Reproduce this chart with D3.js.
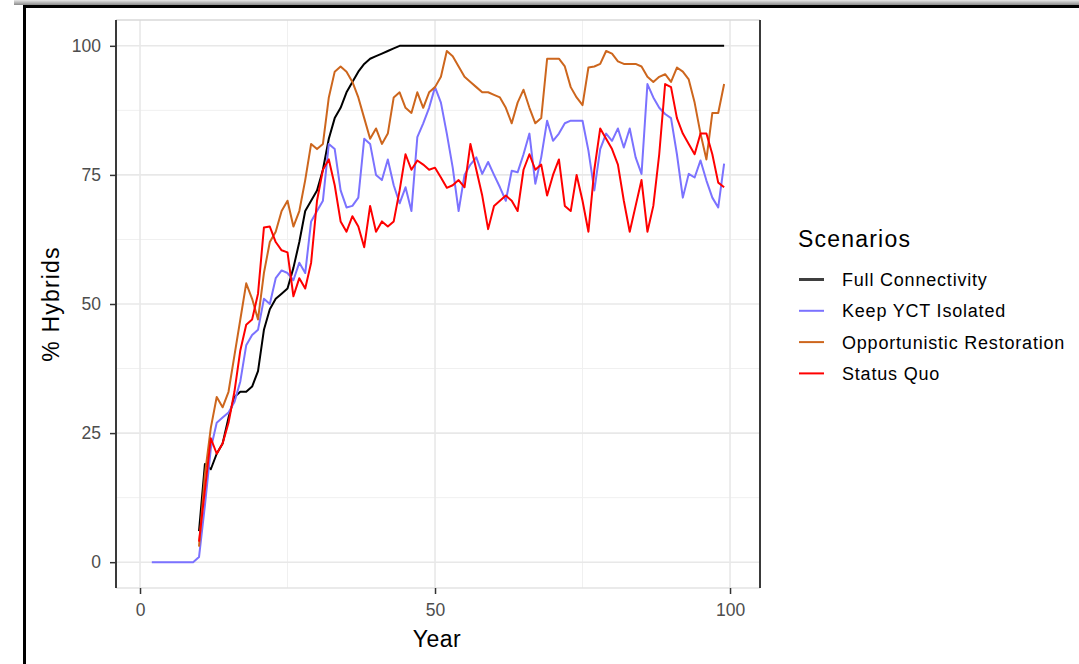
<!DOCTYPE html>
<html>
<head>
<meta charset="utf-8">
<script src="https://cdn.jsdelivr.net/npm/d3@7"></script>
<style>
  body { margin: 0; background: #fff; }
  text { font-family: "Liberation Sans", Arial, sans-serif; }
</style>
</head>
<body>
<svg id="chart" width="1079" height="664"></svg>
<script>
// years 2..99, null = not simulated yet
var years = d3.range(2, 100);

var fullConnectivity = [null, null, null, null, null, null, null, null,
  6, 19, 18, 21, 23, 28, 32, 33, 33, 34, 37, 45, 49, 51, 52, 53, 57, 62, 68, 70,
  72, 76, 82, 86, 88, 91, 93, 95, 96.5, 97.5, 98, 98.5, 99, 99.5,
  100, 100, 100, 100, 100, 100, 100, 100, 100, 100, 100, 100, 100, 100,
  100, 100, 100, 100, 100, 100, 100, 100, 100, 100, 100, 100, 100, 100,
  100, 100, 100, 100, 100, 100, 100, 100, 100, 100, 100, 100, 100, 100,
  100, 100, 100, 100, 100, 100, 100, 100, 100, 100, 100, 100, 100, 100];

var keepIsolated = [0, 0, 0, 0, 0, 0, 0, 0,
  1, 11, 22, 27, 28, 29, 31, 35, 42, 44, 45, 51, 50, 55, 56.5, 56, 54.6, 58, 56, 66,
  68, 70, 81, 80, 72, 68.7, 69, 70.6, 82, 81, 75, 74, 78, 73, 69.5, 72.6, 68, 82.3,
  85, 88, 92, 89, 83, 76.4, 68, 75, 77, 78.4, 75.2, 77.5, 75, 72.6, 70, 75.8,
  75.5, 79, 83, 73.3, 78.4, 85.5, 81.6, 83, 85, 85.5, 85.5, 85.5, 79.7, 72,
  80, 83, 81.6, 84, 80.3, 84, 78.4, 75.2, 92.6, 90, 88, 86.8, 86, 79,
  70.6, 75.2, 74.5, 77.8, 73.9, 70.6, 68.7, 77.2];

var opportunistic = [null, null, null, null, null, null, null, null,
  3, 17, 26, 32, 30, 33, 40, 47, 54, 51, 47, 56, 62, 64, 68, 70, 65, 68, 74, 81,
  80, 81, 90, 95, 96, 95, 93, 90, 86, 82, 84, 81, 83, 90, 91, 88, 87, 91,
  88, 91, 92, 94, 99, 98, 96, 94, 93, 92, 91, 91, 90.5, 90, 88, 85,
  89, 91.5, 88, 85, 86, 97.5, 97.5, 97.5, 96, 92, 90, 88.5, 95.8, 96,
  96.5, 99, 98.5, 97, 96.5, 96.5, 96.5, 96, 94, 93, 94, 94.5, 93, 95.8,
  95, 93.5, 89, 83, 78, 87, 87, 92.6];

var statusQuo = [null, null, null, null, null, null, null, null,
  4, 14, 24, 21, 23, 27, 33, 41, 46, 47, 52, 64.8, 65, 62, 60.4, 60, 51.5, 55, 53, 58,
  70, 76, 78, 73, 66, 64, 67, 65, 61, 69, 64, 66, 65, 66, 72, 79, 76, 77.8,
  77, 76, 76.4, 74.5, 72.5, 73, 74, 72.6, 81, 76, 71, 64.5, 69, 70, 71, 70,
  68, 76, 79, 76, 77, 71, 75, 78, 69, 68, 75, 70, 64, 76,
  84, 82, 80, 77, 70, 64, 69, 74, 64, 69, 79, 92.6, 92, 86,
  83, 81, 79, 83, 83, 79, 73.5, 72.6];

var scenarioNames = ["Full Connectivity", "Keep YCT Isolated", "Opportunistic Restoration", "Status Quo"];
var scenarioColors = ["#000000", "#7B72FF", "#CD661D", "#FF0000"];
var yTicks = [0, 25, 50, 75, 100];
var yMinor = [12.5, 37.5, 62.5, 87.5];
var xTicks = [0, 50, 100];
var xMinor = [25, 75];

var series = [fullConnectivity, keepIsolated, opportunistic, statusQuo];

var svg = d3.select("#chart");

var panelLeft = 116, panelRight = 760, panelTop = 20, panelBottom = 588;

// window frame round the screenshot
var shade = svg.append("defs").append("linearGradient")
  .attr("id", "shade").attr("x1", 0).attr("y1", 0).attr("x2", 0).attr("y2", 1);
shade.append("stop").attr("offset", "0%").attr("stop-color", "#e6e6e6");
shade.append("stop").attr("offset", "100%").attr("stop-color", "#8a8a8a");
svg.append("rect").attr("x", 14).attr("y", 0).attr("width", 1065).attr("height", 5)
  .attr("fill", "url(#shade)");
svg.append("line").attr("x1", 23).attr("x2", 1079).attr("y1", 6.5).attr("y2", 6.5)
  .attr("stroke", "#000").attr("stroke-width", 3);
svg.append("line").attr("x1", 24.5).attr("x2", 24.5).attr("y1", 5).attr("y2", 664)
  .attr("stroke", "#000").attr("stroke-width", 3);

var x = d3.scaleLinear().domain([-4.07, 105.08]).range([panelLeft, panelRight]);
var y = d3.scaleLinear().domain([-5, 105]).range([panelBottom, panelTop]);

// grid
var grid = svg.append("g");
grid.selectAll("line.ymin").data(yMinor).enter().append("line")
  .attr("x1", panelLeft).attr("x2", panelRight)
  .attr("y1", function(d) { return y(d); }).attr("y2", function(d) { return y(d); })
  .attr("stroke", "#f0f0f0").attr("stroke-width", 1);
grid.selectAll("line.xmin").data(xMinor).enter().append("line")
  .attr("y1", panelTop).attr("y2", panelBottom)
  .attr("x1", function(d) { return x(d); }).attr("x2", function(d) { return x(d); })
  .attr("stroke", "#f0f0f0").attr("stroke-width", 1);
grid.selectAll("line.ymaj").data(yTicks).enter().append("line")
  .attr("x1", panelLeft).attr("x2", panelRight)
  .attr("y1", function(d) { return y(d); }).attr("y2", function(d) { return y(d); })
  .attr("stroke", "#e8e8e8").attr("stroke-width", 1.6);
grid.selectAll("line.xmaj").data(xTicks).enter().append("line")
  .attr("y1", panelTop).attr("y2", panelBottom)
  .attr("x1", function(d) { return x(d); }).attr("x2", function(d) { return x(d); })
  .attr("stroke", "#e8e8e8").attr("stroke-width", 1.6);

// panel border: sides dark, top and bottom faint
svg.append("line").attr("x1", panelLeft).attr("x2", panelRight).attr("y1", panelTop).attr("y2", panelTop)
  .attr("stroke", "#d9d9d9").attr("stroke-width", 1.5);
svg.append("line").attr("x1", panelLeft).attr("x2", panelRight).attr("y1", panelBottom).attr("y2", panelBottom)
  .attr("stroke", "#e3e3e3").attr("stroke-width", 1.5);

// lines
var line = d3.line()
  .defined(function(d) { return d != null; })
  .x(function(d, i) { return x(years[i]); })
  .y(function(d) { return y(d); });

svg.append("g").selectAll("path").data(series).enter().append("path")
  .attr("d", function(d) { return line(d); })
  .attr("fill", "none")
  .attr("stroke", function(d, i) { return scenarioColors[i]; })
  .attr("stroke-width", 2)
  .attr("stroke-linejoin", "round");

svg.append("line").attr("x1", panelLeft).attr("x2", panelLeft).attr("y1", panelTop).attr("y2", panelBottom)
  .attr("stroke", "#3a3a3a").attr("stroke-width", 2);
svg.append("line").attr("x1", panelRight).attr("x2", panelRight).attr("y1", panelTop).attr("y2", panelBottom)
  .attr("stroke", "#3a3a3a").attr("stroke-width", 2);

// axes
var yAxis = svg.append("g").attr("transform", "translate(" + panelLeft + ",0)")
  .call(d3.axisLeft(y).tickValues(yTicks).tickSize(6).tickPadding(9));
var xAxis = svg.append("g").attr("transform", "translate(0," + panelBottom + ")")
  .call(d3.axisBottom(x).tickValues(xTicks).tickSize(6).tickPadding(10));
[xAxis, yAxis].forEach(function(a) {
  a.select(".domain").remove();
  a.selectAll(".tick line").attr("stroke", "#333").attr("stroke-width", 1.5);
  a.selectAll(".tick text").attr("fill", "#4D4D4D").style("font-size", "17.5px")
    .style("font-family", "'Liberation Sans', Arial, sans-serif");
});

svg.append("text").attr("x", 437).attr("y", 647).attr("text-anchor", "middle")
  .style("font-size", "23px").style("letter-spacing", "0.5px").text("Year");
svg.append("text").attr("transform", "translate(59,304) rotate(-90)")
  .attr("text-anchor", "middle")
  .style("font-size", "23px").style("letter-spacing", "1.2px").text("% Hybrids");

// legend
var legend = svg.append("g").attr("transform", "translate(798,0)");
legend.append("text").attr("x", 0).attr("y", 247)
  .style("font-size", "23px").style("letter-spacing", "1.2px").text("Scenarios");
var item = legend.selectAll("g.item").data(scenarioNames).enter().append("g")
  .attr("transform", function(d, i) { return "translate(0," + (279.5 + i * 31.3) + ")"; });
item.append("line").attr("x1", 1).attr("x2", 26).attr("y1", 0).attr("y2", 0)
  .attr("stroke", function(d, i) { return scenarioColors[i]; })
  .attr("stroke-width", function(d, i) { return i == 0 ? 3 : 2; })
  .attr("opacity", function(d, i) { return i == 0 ? 0.75 : 1; });
item.append("text").attr("x", 44).attr("y", 0).attr("dy", "0.36em")
  .style("font-size", "18px").style("letter-spacing", "0.8px")
  .text(function(d) { return d; });
</script>
</body>
</html>
